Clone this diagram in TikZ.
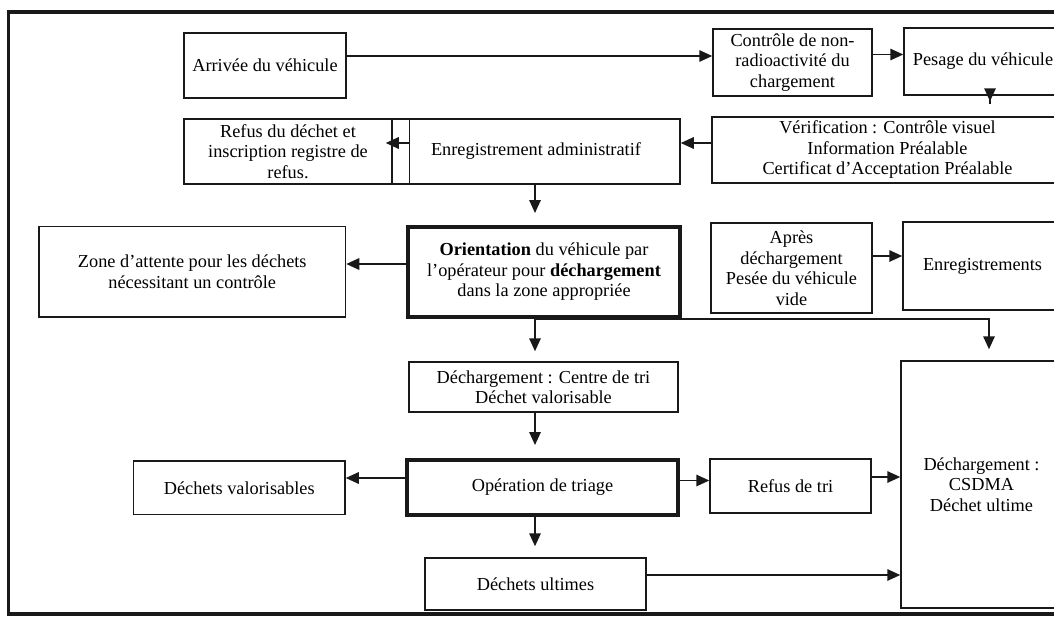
\documentclass[tikz,border=0pt]{standalone}
\usepackage{fontspec}
\setmainfont{Liberation Serif}
\usetikzlibrary{arrows.meta,calc}
\begin{document}
\begin{tikzpicture}[x=1pt,y=-1pt,
  box/.style={draw=black!90, line width=1.5pt, inner sep=0pt, align=center,
    font=\fontsize{18.3}{20.5}\selectfont},
  thickbox/.style={box, line width=4pt},
  arrow/.style={draw=black!90, line width=1.6pt, -{Triangle[length=13pt,width=11.5pt]}},
  frameline/.style={draw=black!90, line width=3.2pt}]
\useasboundingbox (0,0) rectangle (1054,616);
\clip (0,0) rectangle (1054,616);
\fill[white] (0,0) rectangle (1054,616);
% outer frame (open to the right, beyond the page)
\draw[frameline] (1070,12) -- (8.5,12) -- (8.5,614) -- (1070,614);

% nodes
\node[box, minimum width=162pt, minimum height=65pt] (arr) at (265,65.5) {Arrivée du véhicule};
\node[box, minimum width=159pt, minimum height=67pt] (ctrl) at (792.5,62.5) {Contrôle de non-\\radioactivité du\\chargement};
\node[box, minimum width=158pt, minimum height=67pt] (pes) at (983,61.5) {Pesage du véhicule};
\node[box, minimum width=351pt, minimum height=66pt] (verif) at (887.5,150) {Vérification : Contrôle visuel\\Information Préalable\\Certificat d’Acceptation Préalable};
\node[box, minimum width=288pt, minimum height=65pt] (enr) at (536,151.5) {Enregistrement administratif};
\node[box, minimum width=208pt, minimum height=65pt] (refus) at (288,151.5) {Refus du déchet et\\inscription registre de\\refus.};
\node[thickbox, minimum width=272pt, minimum height=90pt] (orient) at (544,272) {\textbf{Orientation} du véhicule par\\l’opérateur pour \textbf{déchargement}\\dans la zone appropriée};
\node[box, minimum width=306.5pt, minimum height=90.5pt] (zone) at (192.25,271.75) {Zone d’attente pour les déchets\\nécessitant un contrôle};
\node[box, minimum width=161pt, minimum height=90pt] (apres) at (791.5,268) {Après\\déchargement\\Pesée du véhicule\\vide};
\node[box, minimum width=159pt, minimum height=88pt] (enrs) at (982.5,266) {Enregistrements};
\node[box, minimum width=269pt, minimum height=50pt] (cdt) at (543.5,387) {Déchargement : Centre de tri\\Déchet valorisable};
\node[box, minimum width=161pt, minimum height=247pt] (csdma) at (981.5,484.5) {Déchargement :\\CSDMA\\Déchet ultime};
\node[thickbox, minimum width=271pt, minimum height=55pt] (optri) at (542.5,487.5) {Opération de triage};
\node[box, minimum width=211.5pt, minimum height=53.5pt] (dval) at (239.25,487.75) {Déchets valorisables};
\node[box, minimum width=161pt, minimum height=54pt] (rtri) at (790.5,486) {Refus de tri};
\node[box, minimum width=221pt, minimum height=52pt] (dult) at (535.5,584) {Déchets ultimes};

% divider inside the administrative box
\draw[draw=black!90, line width=1.5pt] ([xshift=18pt]enr.north west) -- ([xshift=18pt]enr.south west);

% connectors
\draw[arrow] (arr.east |- 0,56) -- (ctrl.west |- 0,56);
\draw[arrow] (ctrl.east |- 0,54.5) -- (pes.west |- 0,54.5);
\draw[arrow, shorten <=-8pt, shorten >=15pt] (pes.south -| 990,0) -- (verif.north -| 990,0);
\draw[arrow] (verif.west |- 0,143) -- (enr.east |- 0,143);
\draw[arrow] ($(enr.west |- 0,143)+(18,0)$) -- ($(refus.east |- 0,143)+(-7,0)$);
\draw[arrow, shorten >=12pt] (enr.south -| 535,0) -- (orient.north -| 535,0);
\draw[arrow] (orient.west |- 0,264) -- (zone.east |- 0,264);
\draw[arrow, shorten >=10pt] (orient.south -| 535,0) -- (cdt.north -| 535,0);
\draw[arrow, shorten >=11pt] (orient.south -| 535,0) -- (535,319) -- (989,319) -- (csdma.north -| 989,0);
\draw[arrow] (apres.east |- 0,256) -- (enrs.west |- 0,256);
\draw[arrow, shorten >=13pt] (cdt.south -| 535,0) -- (optri.north -| 535,0);
\draw[arrow] (optri.west |- 0,478) -- (dval.east |- 0,478);
\draw[arrow] (optri.east |- 0,480.5) -- (rtri.west |- 0,480.5);
\draw[arrow] (rtri.east |- 0,477) -- (csdma.west |- 0,477);
\draw[arrow, shorten >=11pt] (optri.south -| 535,0) -- (dult.north -| 535,0);
\draw[arrow] (dult.east |- 0,575) -- (csdma.west |- 0,575);
\end{tikzpicture}
\end{document}
